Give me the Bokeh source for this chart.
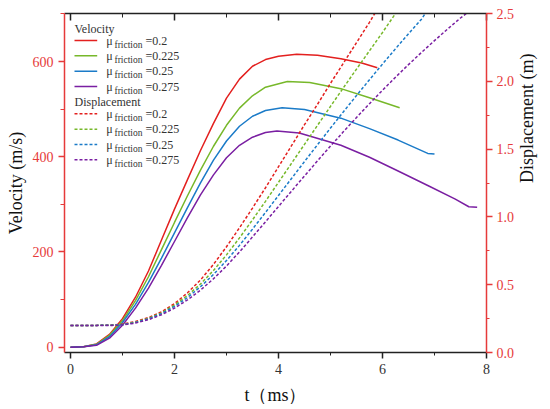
import math
from bokeh.plotting import figure
from bokeh.models import Range1d, LinearAxis, Label, Arrow, FixedTicker
from bokeh.embed import file_html
from bokeh.resources import INLINE

# ---------------- data ----------------
mu_labels = ["0.2", "0.225", "0.25", "0.275"]

t_v_red = [0, 0.25, 0.5, 0.75, 1.0, 1.25, 1.5, 1.75, 2.0, 2.25, 2.5, 2.75, 3.0, 3.25, 3.5, 3.75, 4.0, 4.35, 4.75, 5.2, 5.6, 5.9]
v_red = [0, 1, 7, 27, 60, 105, 160, 225, 290, 352, 413, 470, 523, 563, 590, 604, 611, 615, 613, 606, 597, 587]

t_v_green = [0, 0.25, 0.5, 0.75, 1.0, 1.25, 1.5, 1.75, 2.0, 2.25, 2.5, 2.75, 3.0, 3.25, 3.5, 3.75, 4.17, 4.6, 5.2, 5.75, 6.33]
v_green = [0, 1, 6, 25, 56, 98, 148, 205, 262, 318, 372, 422, 466, 502, 528, 546, 558, 556, 543, 524, 503]

t_v_blue = [0, 0.25, 0.5, 0.75, 1.0, 1.25, 1.5, 1.75, 2.0, 2.25, 2.5, 2.75, 3.0, 3.25, 3.5, 3.75, 4.07, 4.5, 5.2, 5.75, 6.3, 6.87, 7.0]
v_blue = [0, 1, 5, 22, 52, 90, 136, 187, 240, 293, 345, 393, 433, 464, 485, 497, 503, 499, 481, 459, 435, 407, 406]

t_v_purple = [0, 0.25, 0.5, 0.75, 1.0, 1.25, 1.5, 1.75, 2.0, 2.25, 2.5, 2.75, 3.0, 3.25, 3.5, 3.75, 3.97, 4.4, 5.2, 5.75, 6.3, 6.9, 7.4, 7.66, 7.82]
v_purple = [0, 1, 4, 19, 46, 82, 124, 172, 222, 272, 320, 362, 398, 424, 441, 451, 454, 450, 424, 399, 370, 338, 311, 295, 294]

t_d_red = [0, 0.5, 0.8, 1.0, 1.25, 1.5, 1.75, 2.0, 2.25, 2.5, 2.75, 3.0, 3.25, 3.5, 3.75, 4.0, 4.25, 4.5, 4.75, 5.0, 5.25, 5.5, 5.75, 5.86]
d_red = [0.2, 0.2, 0.203, 0.21, 0.228, 0.258, 0.30, 0.36, 0.44, 0.535, 0.65, 0.78, 0.92, 1.065, 1.215, 1.37, 1.525, 1.68, 1.83, 1.985, 2.135, 2.285, 2.435, 2.505]

t_d_green = [0, 0.5, 0.8, 1.0, 1.25, 1.5, 1.75, 2.0, 2.25, 2.5, 2.75, 3.0, 3.25, 3.5, 3.75, 4.0, 4.25, 4.5, 4.75, 5.0, 5.25, 5.5, 5.75, 6.0, 6.26]
d_green = [0.2, 0.2, 0.202, 0.207, 0.224, 0.252, 0.292, 0.35, 0.42, 0.505, 0.605, 0.72, 0.845, 0.978, 1.115, 1.255, 1.395, 1.535, 1.675, 1.815, 1.953, 2.09, 2.225, 2.36, 2.505]

t_d_blue = [0, 0.5, 0.8, 1.0, 1.25, 1.5, 1.75, 2.0, 2.25, 2.5, 2.75, 3.0, 3.25, 3.5, 3.75, 4.0, 4.25, 4.5, 4.75, 5.0, 5.25, 5.5, 5.75, 6.0, 6.25, 6.5, 6.75, 6.83]
d_blue = [0.2, 0.2, 0.201, 0.205, 0.221, 0.248, 0.287, 0.34, 0.405, 0.485, 0.575, 0.678, 0.79, 0.91, 1.033, 1.158, 1.283, 1.408, 1.532, 1.655, 1.776, 1.895, 2.012, 2.127, 2.24, 2.35, 2.458, 2.505]

t_d_purple = [0, 0.5, 0.8, 1.0, 1.25, 1.5, 1.75, 2.0, 2.25, 2.5, 2.75, 3.0, 3.25, 3.5, 3.75, 4.0, 4.25, 4.5, 4.75, 5.0, 5.25, 5.5, 5.75, 6.0, 6.25, 6.5, 6.75, 7.0, 7.25, 7.5, 7.63]
d_purple = [0.2, 0.2, 0.2, 0.203, 0.217, 0.242, 0.278, 0.327, 0.388, 0.46, 0.544, 0.638, 0.742, 0.852, 0.964, 1.077, 1.19, 1.302, 1.413, 1.522, 1.629, 1.733, 1.835, 1.934, 2.03, 2.123, 2.213, 2.30, 2.385, 2.467, 2.505]

x_ticks = [0, 2, 4, 6, 8]
x_minor = [1, 3, 5, 7]
v_ticks = [0, 200, 400, 600]
v_minor = [100, 300, 500, 700]
d_ticks = [0.0, 0.5, 1.0, 1.5, 2.0, 2.5]
d_minor = [0.25, 0.75, 1.25, 1.75, 2.25]
d_tick_labels = ["0.0", "0.5", "1.0", "1.5", "2.0", "2.5"]

# ---------------- styling ----------------
COLORS = ["#e3201f", "#77b82a", "#1b7bc8", "#7a1fa2"]
AXIS_RED = "#e63a3a"
DARK = "#222222"
FONT = "Liberation Serif"

p = figure(width=550, height=409, output_backend="svg", toolbar_location=None,
           x_range=Range1d(-0.115, 8.0), y_range=Range1d(-11.1, 700.8),
           min_border_left=64, min_border_right=64, min_border_top=13, min_border_bottom=57)
p.extra_y_ranges = {"disp": Range1d(0, 2.5)}
p.outline_line_color = None
p.grid.visible = False
p.background_fill_color = "white"
p.border_fill_color = "white"

vel = [(t_v_red, v_red), (t_v_green, v_green), (t_v_blue, v_blue), (t_v_purple, v_purple)]
disp = [(t_d_red, d_red), (t_d_green, d_green), (t_d_blue, d_blue), (t_d_purple, d_purple)]
for (t, v), c in zip(vel, COLORS):
    p.line(t, v, line_color=c, line_width=1.5)
for (t, d), c in zip(disp, COLORS):
    p.line(t, d, line_color=c, line_width=1.5, line_dash="3 2", y_range_name="disp")

# bottom axis
xa = p.xaxis[0]
xa.ticker = FixedTicker(ticks=x_ticks, minor_ticks=x_minor)
xa.axis_line_color = DARK
xa.axis_line_width = 1.5
xa.major_tick_line_color = DARK
xa.minor_tick_line_color = DARK
xa.major_tick_line_width = 1.5
xa.major_tick_in = 0
xa.major_tick_out = 6
xa.minor_tick_in = 0
xa.minor_tick_out = 3
xa.major_label_text_font = FONT
xa.major_label_text_font_size = "14px"
xa.major_label_text_color = "#333333"
xa.major_label_standoff = 5
xa.axis_label = "t（ms）"
xa.axis_label_text_font = FONT
xa.axis_label_text_font_size = "18px"
xa.axis_label_text_font_style = "normal"
xa.axis_label_text_color = "#111111"
xa.axis_label_standoff = 8

# left axis
ya = p.yaxis[0]
ya.ticker = FixedTicker(ticks=v_ticks, minor_ticks=v_minor)
ya.axis_line_color = AXIS_RED
ya.axis_line_width = 1.5
ya.major_tick_line_color = AXIS_RED
ya.minor_tick_line_color = AXIS_RED
ya.major_tick_line_width = 1.5
ya.major_tick_in = 0
ya.major_tick_out = 6
ya.minor_tick_in = 0
ya.minor_tick_out = 4
ya.major_label_text_font = FONT
ya.major_label_text_font_size = "14px"
ya.major_label_text_color = AXIS_RED
ya.major_label_standoff = 5
ya.axis_label = "Velocity (m/s)"
ya.axis_label_text_font = FONT
ya.axis_label_text_font_size = "18px"
ya.axis_label_text_font_style = "normal"
ya.axis_label_text_color = "#111111"
ya.axis_label_standoff = 4

# right axis
ra = LinearAxis(y_range_name="disp", ticker=FixedTicker(ticks=d_ticks, minor_ticks=d_minor))
ra.major_label_overrides = {tk: lb for tk, lb in zip(d_ticks, d_tick_labels)}
ra.axis_line_color = AXIS_RED
ra.axis_line_width = 1.5
ra.major_tick_line_color = AXIS_RED
ra.minor_tick_line_color = AXIS_RED
ra.major_tick_line_width = 1.5
ra.major_tick_in = 0
ra.major_tick_out = 6
ra.minor_tick_in = 0
ra.minor_tick_out = 3
ra.major_label_text_font = FONT
ra.major_label_text_font_size = "14px"
ra.major_label_text_color = AXIS_RED
ra.major_label_standoff = 4

if "axis_label_orientation" in ra.properties():
    # right axis title, reading bottom-to-top like the reference
    ra.axis_label = "Displacement (m)"
    ra.axis_label_orientation = math.pi / 2
    ra.axis_label_text_font = FONT
    ra.axis_label_text_font_size = "18px"
    ra.axis_label_text_font_style = "normal"
    ra.axis_label_text_color = "#111111"
    ra.axis_label_standoff = 10
else:
    p.add_layout(Label(x=468, y=170, x_units="screen", y_units="screen",
                       text="Displacement (m)", angle=math.pi / 2,
                       text_font=FONT, text_font_size="18px", text_color="#111111",
                       text_align="center", text_baseline="middle"))
p.add_layout(ra, "right")

# top axis (ticks only)
ta = LinearAxis(ticker=FixedTicker(ticks=x_ticks, minor_ticks=x_minor))
ta.major_label_overrides = {tk: "" for tk in x_ticks}
ta.axis_line_color = DARK
ta.axis_line_width = 1.5
ta.major_tick_line_color = DARK
ta.minor_tick_line_color = DARK
ta.major_tick_line_width = 1.5
ta.major_tick_in = 7
ta.major_tick_out = 0
ta.minor_tick_in = 4
ta.minor_tick_out = 0
ta.major_label_standoff = 0
p.add_layout(ta, "above")

# ---------------- legend (frame-relative screen units) ----------------
def text(x, y, s, size="12px", color="#333333"):
    p.add_layout(Label(x=x, y=y, x_units="screen", y_units="screen", text=s,
                       text_font=FONT, text_font_size=size, text_color=color,
                       text_baseline="middle", text_align="left"))

text(10, 323.7, "Velocity")
text(10, 251, "Displacement")
rows_solid = [312.0, 296.7, 281.3, 266.0]
rows_dash = [238.7, 223.3, 208.0, 192.7]
for rows, dash in ((rows_solid, "solid"), (rows_dash, "3 2")):
    for yy, c, lab in zip(rows, COLORS, mu_labels):
        p.add_layout(Arrow(end=None, x_start=10, y_start=yy, x_end=32.7, y_end=yy,
                           start_units="screen", end_units="screen",
                           line_color=c, line_width=1.5, line_dash=dash))
        text(41.7, yy, "μ", size="12px")
        text(50, yy - 4, "friction", size="9.5px")
        text(81, yy, "=" + lab, size="12px")

open("out.html", "w").write(file_html(p, INLINE))
